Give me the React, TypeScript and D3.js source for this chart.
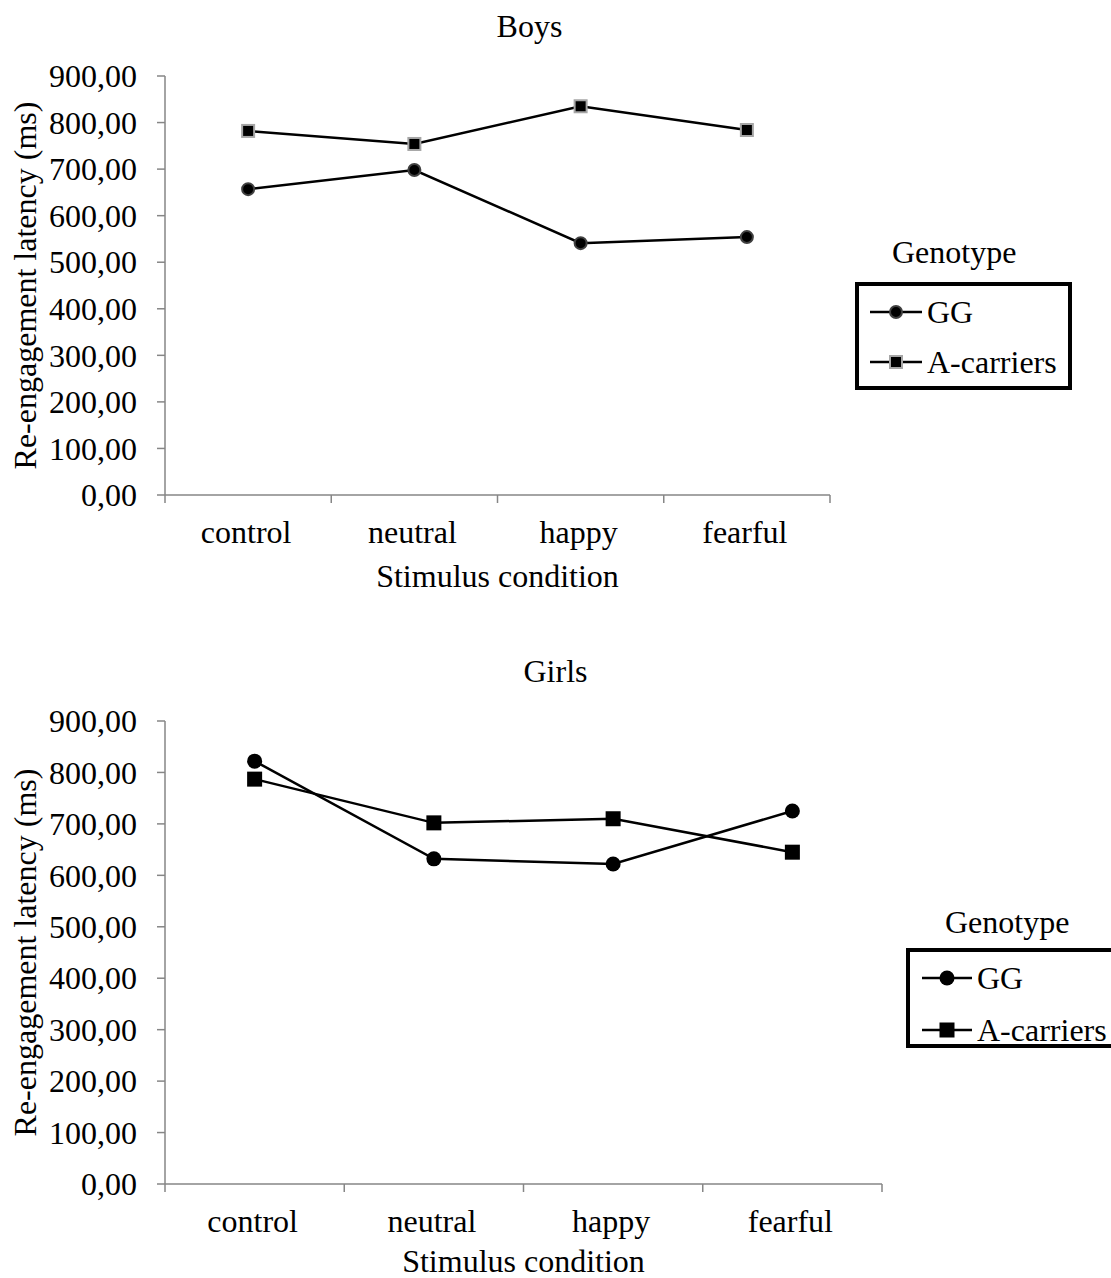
import React from 'react';
import * as d3 from 'd3';

const categories = ['control', 'neutral', 'happy', 'fearful'];
const yTicks = [0, 100, 200, 300, 400, 500, 600, 700, 800, 900];
const seriesNames = ['GG', 'A-carriers'];

const boysGG = [657, 698, 541, 554];
const boysA = [782, 754, 835, 784];
const girlsGG = [822, 632, 622, 725];
const girlsA = [787, 702, 710, 645];

const FONT = '"Liberation Serif", "Times New Roman", serif';
const FS = 32;
const AXIS = '#868686';

const fmt = (v) => v.toFixed(2).replace('.', ',');

const Marker = ({ kind, x, y, style }) => {
  if (kind === 'circle') {
    return <circle cx={x} cy={y} r={style.r} fill="#000" stroke={style.stroke} strokeWidth={style.sw} />;
  }
  const s = style.size;
  return <rect x={x - s / 2} y={y - s / 2} width={s} height={s} fill="#000" stroke={style.stroke} strokeWidth={style.sw} />;
};

const Panel = ({ title, gg, ac, box, legend, circleStyle, squareStyle, xTitleDy }) => {
  const x = d3.scalePoint().domain(categories).range([box.x0, box.x1]).padding(0.5);
  const band = (box.x1 - box.x0) / categories.length;
  const y = d3.scaleLinear().domain([0, 900]).range([box.y1, box.y0]);
  const line = d3.line().x((d, i) => x(categories[i])).y((d) => y(d));
  const series = [
    { name: seriesNames[0], vals: gg, kind: 'circle', style: circleStyle },
    { name: seriesNames[1], vals: ac, kind: 'square', style: squareStyle },
  ];
  const midY = (box.y0 + box.y1) / 2;
  return (
    <g fontFamily={FONT} fontSize={FS} fill="#000">
      <text x={(box.x0 + box.x1) / 2 + 32} y={box.y0 - 39} textAnchor="middle">{title}</text>
      {/* y axis */}
      <line x1={box.x0} x2={box.x0} y1={box.y0} y2={box.y1} stroke={AXIS} strokeWidth={1.5} />
      {yTicks.map((t) => (
        <g key={t}>
          <line x1={box.x0 - 8} x2={box.x0} y1={y(t)} y2={y(t)} stroke={AXIS} strokeWidth={1.5} />
          <text x={box.x0 - 28} y={y(t)} dy="0.35em" textAnchor="end">{fmt(t)}</text>
        </g>
      ))}
      {/* x axis */}
      <line x1={box.x0} x2={box.x1} y1={box.y1} y2={box.y1} stroke={AXIS} strokeWidth={1.5} />
      {d3.range(categories.length + 1).map((i) => (
        <line key={i} x1={box.x0 + i * band} x2={box.x0 + i * band} y1={box.y1} y2={box.y1 + 8} stroke={AXIS} strokeWidth={1.5} />
      ))}
      {categories.map((c) => (
        <text key={c} x={x(c) - 2} y={box.y1 + 48} textAnchor="middle">{c}</text>
      ))}
      <text x={(box.x0 + box.x1) / 2} y={box.y1 + xTitleDy} textAnchor="middle">Stimulus condition</text>
      <text transform={`translate(${36},${midY}) rotate(-90)`} textAnchor="middle">Re-engagement latency (ms)</text>
      {/* series */}
      {series.map((s) => (
        <g key={s.name}>
          <path d={line(s.vals)} fill="none" stroke="#000" strokeWidth={2.5} />
          {s.vals.map((v, i) => (
            <Marker key={i} kind={s.kind} x={x(categories[i])} y={y(v)} style={s.style} />
          ))}
        </g>
      ))}
      {/* legend */}
      <text x={legend.titleX} y={legend.titleY}>Genotype</text>
      <rect x={legend.x} y={legend.y} width={legend.w} height={legend.h} fill="none" stroke="#000" strokeWidth={4} />
      {series.map((s, i) => {
        const ly = legend.y + 28 + i * legend.gap;
        return (
          <g key={s.name}>
            <line x1={legend.lx0} x2={legend.lx1} y1={ly} y2={ly} stroke="#000" strokeWidth={2.5} />
            <Marker kind={s.kind} x={(legend.lx0 + legend.lx1) / 2} y={ly} style={s.style} />
            <text x={legend.lx1 + 5} y={ly} dy="0.35em">{s.name}</text>
          </g>
        );
      })}
    </g>
  );
};

export default function App() {
  return (
    <svg width={1111} height={1278} style={{ position: 'absolute', left: 0, top: 0, background: '#fff' }}>
      <rect width={1111} height={1278} fill="#fff" />
      <Panel
        title="Boys"
        gg={boysGG}
        ac={boysA}
        box={{ x0: 165, x1: 830, y0: 76, y1: 495 }}
        xTitleDy={92}
        legend={{ titleX: 892, titleY: 263, x: 857, y: 284, w: 213, h: 104, gap: 50, lx0: 870, lx1: 922 }}
        circleStyle={{ r: 6, stroke: '#404040', sw: 2 }}
        squareStyle={{ size: 12, stroke: '#a6a6a6', sw: 2 }}
      />
      <Panel
        title="Girls"
        gg={girlsGG}
        ac={girlsA}
        box={{ x0: 165, x1: 882, y0: 721, y1: 1184 }}
        xTitleDy={88}
        legend={{ titleX: 945, titleY: 933, x: 908, y: 950, w: 210, h: 96, gap: 52, lx0: 922, lx1: 972 }}
        circleStyle={{ r: 7.5, stroke: 'none', sw: 0 }}
        squareStyle={{ size: 15, stroke: 'none', sw: 0 }}
      />
    </svg>
  );
}
